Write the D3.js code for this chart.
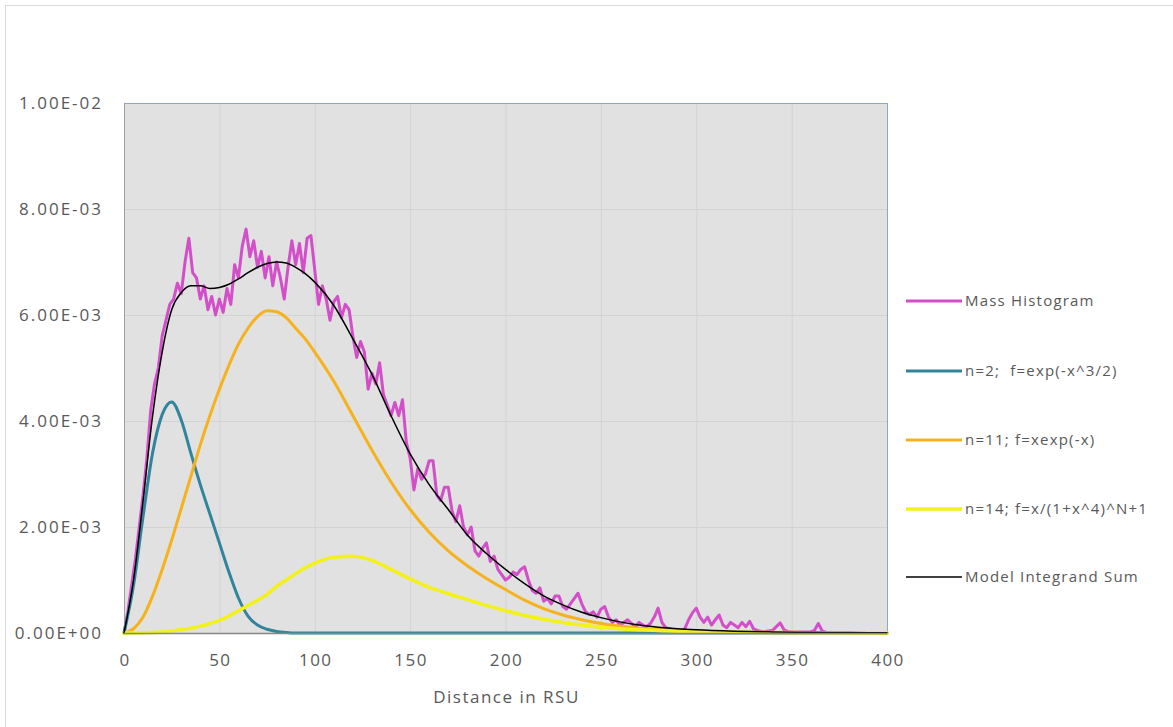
<!DOCTYPE html>
<html>
<head>
<meta charset="utf-8">
<script src="https://cdn.jsdelivr.net/npm/d3@7"></script>
<style>
  body { margin: 0; background: #fff; }
  text { font-family: "Open Sans", sans-serif; fill: #595959; }
</style>
</head>
<body>
<svg id="chart" width="1173" height="727"></svg>
<script>
// all y values are in units of 1e-3

// x grid of the model curves (RSU)
const modelX = [0, 5, 10, 15, 20, 25, 30, 35, 40, 45, 50, 55, 60, 65, 70, 75, 80, 85, 90, 95,
  100, 110, 120, 130, 140, 150, 160, 170, 180, 190, 200, 210, 220, 230, 240, 250, 260, 270, 280, 290,
  300, 320, 340, 360, 380, 400];

// n=2; f=exp(-x^3/2)
const tealVals = [0, 0.9, 2.2, 3.4, 4.12, 4.36, 4.02, 3.4, 2.8, 2.25, 1.7, 1.15, 0.66, 0.32, 0.15, 0.07, 0.03, 0.01, 0, 0,
  0, 0, 0, 0, 0, 0, 0, 0, 0, 0, 0, 0, 0, 0, 0, 0, 0, 0, 0, 0,
  0, 0, 0, 0, 0, 0];

// n=11; f=xexp(-x)
const orangeVals = [0, 0.08, 0.3, 0.7, 1.2, 1.75, 2.35, 2.95, 3.55, 4.1, 4.6, 5.05, 5.45, 5.75, 5.97, 6.08, 6.06, 5.95, 5.75, 5.55,
  5.3, 4.75, 4.1, 3.45, 2.85, 2.33, 1.9, 1.55, 1.27, 1.03, 0.82, 0.62, 0.46, 0.34, 0.25, 0.18, 0.13, 0.09, 0.065, 0.045,
  0.03, 0.015, 0.008, 0.004, 0.002, 0.001];

// n=14; f=x/(1+x^4)^N+1
const yellowVals = [0, 0.002, 0.005, 0.01, 0.02, 0.04, 0.06, 0.09, 0.13, 0.18, 0.24, 0.32, 0.42, 0.52, 0.62, 0.73, 0.88, 1.0, 1.12, 1.23,
  1.32, 1.43, 1.45, 1.37, 1.2, 1.02, 0.86, 0.74, 0.63, 0.52, 0.42, 0.33, 0.26, 0.2, 0.15, 0.11, 0.08, 0.06, 0.045, 0.033,
  0.025, 0.015, 0.01, 0.007, 0.005, 0.003];

// Model Integrand Sum
const modelVals = [0, 1.0, 2.5, 4.1, 5.3, 6.1, 6.42, 6.55, 6.55, 6.5, 6.52, 6.58, 6.68, 6.8, 6.9, 6.97, 7.0, 6.98, 6.9, 6.78,
  6.62, 6.18, 5.55, 4.88, 4.1, 3.38, 2.8, 2.33, 1.85, 1.5, 1.2, 0.93, 0.7, 0.53, 0.39, 0.29, 0.21, 0.15, 0.11, 0.08,
  0.06, 0.035, 0.02, 0.012, 0.008, 0.005];

// mass histogram, one bin every 2 RSU from 0 to 400
const histX = d3.range(0, 401, 2);
const histVals = [
  0, 0.4, 0.9, 1.4, 2.0, 2.6, 3.3, 4.2, 4.7, 5.0,
  5.6, 5.9, 6.2, 6.3, 6.6, 6.4, 7.0, 7.45, 6.8, 6.7,
  6.3, 6.55, 6.1, 6.35, 6.0, 6.3, 6.05, 6.5, 6.2, 6.95,
  6.7, 7.3, 7.62, 7.1, 7.4, 6.9, 7.2, 6.7, 7.1, 6.55,
  7.0, 6.7, 6.3, 6.9, 7.4, 6.95, 7.35, 6.8, 7.45, 7.5,
  6.85, 6.2, 6.55, 6.3, 5.9, 6.25, 6.35, 5.95, 6.2, 6.1,
  5.6, 5.2, 5.5, 5.3, 4.6, 4.9, 4.7, 5.1, 4.5, 4.3,
  4.1, 4.35, 4.1, 4.4, 3.6, 3.3, 2.7, 3.1, 2.9, 3.0,
  3.25, 3.25, 2.6, 2.5, 2.75, 2.75, 2.3, 2.1, 2.4, 2.0,
  1.85, 2.0, 1.55, 1.45, 1.6, 1.7, 1.35, 1.45, 1.2, 1.1,
  1.0, 1.05, 1.15, 1.1, 1.2, 1.25, 1.0, 0.8, 0.75, 0.85,
  0.6, 0.65, 0.55, 0.7, 0.7, 0.5, 0.45, 0.55, 0.65, 0.75,
  0.55, 0.4, 0.35, 0.4, 0.3, 0.45, 0.5, 0.3, 0.2, 0.25,
  0.15, 0.2, 0.25, 0.18, 0.12, 0.2, 0.15, 0.12, 0.18, 0.3,
  0.47, 0.2, 0.1, 0.08, 0.06, 0.05, 0.05, 0.08, 0.25, 0.38,
  0.47, 0.3, 0.2, 0.3, 0.15, 0.25, 0.34, 0.15, 0.1, 0.2,
  0.15, 0.1, 0.2, 0.12, 0.22, 0.08, 0.05, 0.03, 0.03, 0.04,
  0.05, 0.12, 0.19, 0.06, 0.03, 0.02, 0.02, 0.02, 0.02, 0.02,
  0.02, 0.05, 0.18, 0.04, 0.01, 0.01, 0.01, 0.01, 0.01, 0.01,
  0.01, 0.01, 0.01, 0.01, 0.01, 0.01, 0.01, 0.01, 0.01, 0.01,
  0.01
];

const xTicks = [0, 50, 100, 150, 200, 250, 300, 350, 400];
const yTicks = [0, 2, 4, 6, 8, 10];

const seriesNames = ['Mass Histogram', 'n=2;  f=exp(-x^3/2)', 'n=11; f=xexp(-x)', 'n=14; f=x/(1+x^4)^N+1', 'Model Integrand Sum'];
const seriesColours = ['#d24fc9', '#31849b', '#f6b21c', '#f2f21a', '#000000'];
const seriesWidths = [3, 3, 3, 3.5, 1.5];

const svg = d3.select('#chart');

// outer chart frame
svg.append('rect')
  .attr('x', 5.5).attr('y', 5.5)
  .attr('width', 1180).attr('height', 740)
  .attr('fill', 'none')
  .attr('stroke', '#d9d9d9');

const plot = { left: 124, top: 103, width: 763, height: 530 };

const x = d3.scaleLinear().domain([0, 400]).range([plot.left, plot.left + plot.width]);
const y = d3.scaleLinear().domain([0, 10]).range([plot.top + plot.height, plot.top]);

// E-notation like excel: 2.00E-03
const fmtSci = v => {
  const [m, e] = (v * 1e-3).toExponential(2).split('e');
  const sign = e[0] === '-' ? '-' : '+';
  const digits = e.replace(/[+-]/, '').padStart(2, '0');
  return `${m}E${sign}${digits}`;
};

// plot background
svg.append('rect')
  .attr('x', plot.left).attr('y', plot.top)
  .attr('width', plot.width).attr('height', plot.height)
  .attr('fill', '#e1e1e1');

// gridlines
svg.append('g').selectAll('line.vgrid').data(xTicks.slice(1, -1)).join('line')
  .attr('class', 'vgrid')
  .attr('x1', d => x(d) + 0.5).attr('x2', d => x(d) + 0.5)
  .attr('y1', plot.top).attr('y2', plot.top + plot.height)
  .attr('stroke', '#d3d3d3');
svg.append('g').selectAll('line.hgrid').data(yTicks.slice(1, -1)).join('line')
  .attr('class', 'hgrid')
  .attr('x1', plot.left).attr('x2', plot.left + plot.width)
  .attr('y1', d => y(d) + 0.5).attr('y2', d => y(d) + 0.5)
  .attr('stroke', '#d3d3d3');

// plot border
svg.append('rect')
  .attr('x', plot.left + 0.5).attr('y', plot.top + 0.5)
  .attr('width', plot.width).attr('height', plot.height)
  .attr('fill', 'none')
  .attr('stroke', '#8fa6c6');
svg.append('line')
  .attr('x1', plot.left + 0.5).attr('x2', plot.left + 0.5)
  .attr('y1', plot.top).attr('y2', plot.top + plot.height)
  .attr('stroke', '#a0a0a0');

// series
const histLine = d3.line()
  .x((d, i) => x(histX[i]))
  .y(d => y(d));
const modelLine = d3.line()
  .x((d, i) => x(modelX[i]))
  .y(d => y(d))
  .curve(d3.curveMonotoneX);

const lines = svg.append('g')
  .attr('fill', 'none')
  .attr('stroke-linejoin', 'round')
  .attr('stroke-linecap', 'round');

lines.append('path').datum(histVals)
  .attr('d', histLine)
  .attr('stroke', seriesColours[0])
  .attr('stroke-width', seriesWidths[0]);

[tealVals, orangeVals, yellowVals, modelVals].forEach((vals, i) => {
  lines.append('path').datum(vals)
    .attr('d', modelLine)
    .attr('stroke', seriesColours[i + 1])
    .attr('stroke-width', seriesWidths[i + 1]);
});

// bottom axis line
svg.append('line')
  .attr('x1', plot.left).attr('x2', plot.left + plot.width)
  .attr('y1', y(0) + 0.5).attr('y2', y(0) + 0.5)
  .attr('stroke', '#868686')
  .attr('stroke-width', 1.5);

// tick labels (wide spacing like the original)
svg.append('g').selectAll('text').data(yTicks).join('text')
  .attr('x', 103)
  .attr('y', d => y(d))
  .attr('dy', '0.35em')
  .attr('text-anchor', 'end')
  .style('font-size', '17px')
  .style('letter-spacing', '2px')
  .text(fmtSci);

svg.append('g').selectAll('text').data(xTicks).join('text')
  .attr('x', d => x(d) + 1)
  .attr('y', 660)
  .attr('dy', '0.35em')
  .attr('text-anchor', 'middle')
  .style('font-size', '17px')
  .style('letter-spacing', '1.5px')
  .text(d => d);

svg.append('text')
  .attr('x', x(200) + 1)
  .attr('y', 697)
  .attr('dy', '0.35em')
  .attr('text-anchor', 'middle')
  .style('font-size', '17px')
  .style('letter-spacing', '1.5px')
  .text('Distance in RSU');

// legend
const legendY = [301, 371, 440, 509, 577];
const legend = svg.append('g').selectAll('g').data(seriesNames).join('g')
  .attr('transform', (d, i) => `translate(906,${legendY[i]})`);
legend.append('line')
  .attr('x1', 0).attr('x2', 56)
  .attr('stroke', (d, i) => seriesColours[i])
  .attr('stroke-width', (d, i) => seriesWidths[i]);
legend.append('text')
  .attr('x', 59)
  .attr('dy', '0.35em')
  .style('font-size', '15px')
  .style('letter-spacing', '1.2px')
  .style('white-space', 'pre')
  .text(d => d);
</script>
</body>
</html>
